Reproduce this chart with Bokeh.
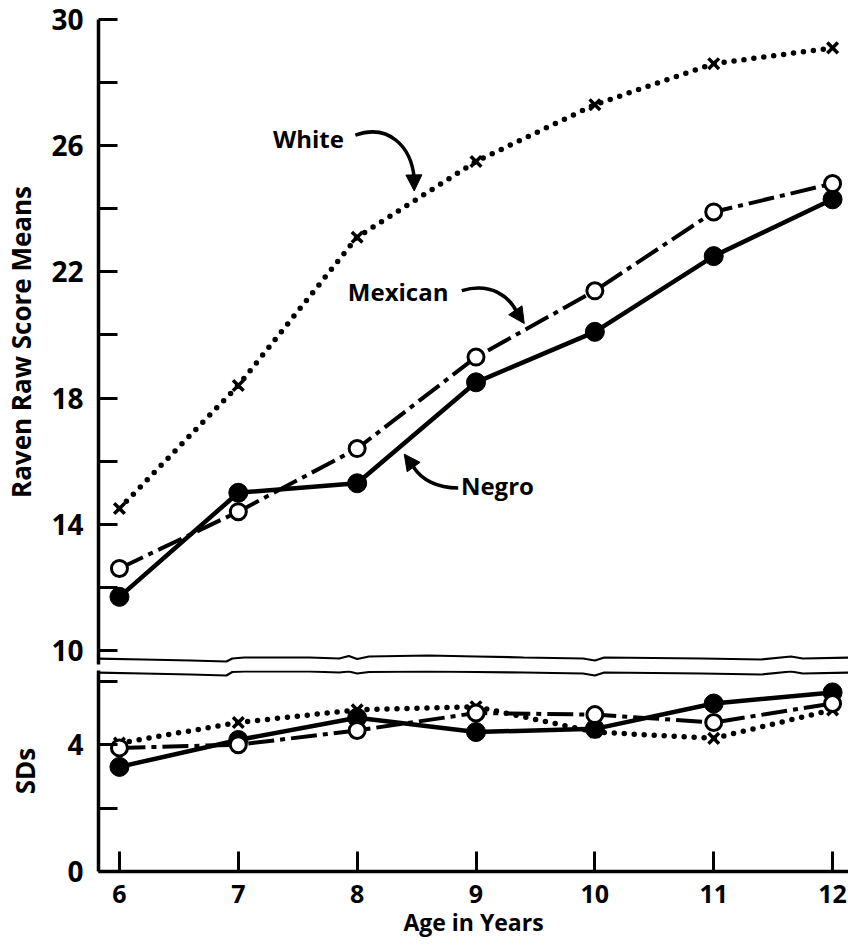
from bokeh.plotting import figure
from bokeh.layouts import column
from bokeh.models import Range1d, FixedTicker, Arrow, NormalHead, Label
from bokeh.embed import file_html
from bokeh.resources import INLINE

# ---------------- data ----------------
ages = [6, 7, 8, 9, 10, 11, 12]
white_mean = [14.5, 18.4, 23.1, 25.5, 27.3, 28.6, 29.1]
mexican_mean = [12.6, 14.4, 16.4, 19.3, 21.4, 23.9, 24.8]
negro_mean = [11.7, 15.0, 15.3, 18.5, 20.1, 22.5, 24.3]
white_sd = [4.05, 4.7, 5.1, 5.2, 4.4, 4.2, 5.1]
mexican_sd = [3.9, 4.0, 4.45, 5.0, 4.95, 4.7, 5.3]
negro_sd = [3.3, 4.15, 4.85, 4.4, 4.5, 5.3, 5.65]

mean_ticks = [10, 12, 14, 16, 18, 20, 22, 24, 26, 28, 30]
mean_tick_labels = ["10", "", "14", "", "18", "", "22", "", "26", "", "30"]
sd_ticks = [0, 2, 4, 6]
sd_tick_labels = ["0", "", "4", ""]
age_ticks = [6, 7, 8, 9, 10, 11, 12]
age_tick_labels = ["6", "7", "8", "9", "10", "11", "12"]

FONT = "Open Sans"
W = 848
LEFT = 96
X_RANGE = Range1d(5.8238, 12.134)


def style_axes(p):
    for ax in p.yaxis:
        ax.axis_line_width = 3.5
        ax.axis_line_color = "black"
        ax.major_tick_in = 19
        ax.major_tick_out = 0
        ax.major_tick_line_width = 3
        ax.minor_tick_line_color = None
        ax.major_label_text_font = FONT
        ax.major_label_text_font_style = "bold"
        ax.major_label_text_font_size = "28px"
        ax.major_label_text_color = "black"
        ax.major_label_standoff = 15
        ax.axis_label_text_font = FONT
        ax.axis_label_text_font_style = "bold"
        ax.axis_label_text_font_size = "26px"
        ax.axis_label_text_color = "black"
    p.xgrid.visible = False
    p.ygrid.visible = False
    p.outline_line_color = None
    p.background_fill_color = "white"
    p.border_fill_color = "white"


def draw_series(p, w, m, n):
    p.line(ages, w, line_color="black", line_width=5.5, line_dash="0 10", line_cap="round")
    p.line(ages, n, line_color="black", line_width=4.5)
    p.line(ages, m, line_color="black", line_width=4, line_dash="26 6 5 6")
    p.scatter(ages, w, marker="x", size=15, line_color="black", line_width=3.5)
    p.scatter(ages, n, marker="circle", size=19, fill_color="black", line_color="black")
    p.scatter(ages, m, marker="circle", size=16, fill_color="white", line_color="black", line_width=3)


# ---------------- top panel (means) ----------------
top = figure(width=W, height=670, output_backend="svg", toolbar_location=None,
             x_range=X_RANGE, y_range=Range1d(9.556, 30.0),
             x_axis_location=None, min_border_left=LEFT, min_border_right=0,
             min_border_top=19, min_border_bottom=6)
top.yaxis.ticker = FixedTicker(ticks=mean_ticks)
top.yaxis.major_label_overrides = {t: s for t, s in zip(mean_ticks, mean_tick_labels)}
top.yaxis.axis_label = "Raven Raw Score Means"
style_axes(top)
top.yaxis.axis_label_standoff = 9
draw_series(top, white_mean, mexican_mean, negro_mean)

# break line (decoration) at the bottom of the upper panel
brk_x = [5.80, 6.2, 6.6, 6.9, 6.95, 7.05, 7.6, 7.85, 7.93, 8.0, 8.1, 8.6, 9.0,
         9.4, 9.9, 10.0, 10.08, 10.9, 11.4, 11.65, 11.75, 12.15]
brk_top_px = [658, 659, 660, 661, 658, 657, 657, 658, 655.5, 658.5, 656, 655, 656,
              657, 658, 660, 657, 658, 659, 656, 658, 657]
top.line(brk_x, [10 + (650 - v) / 31.55 for v in brk_top_px], line_color="black", line_width=2.2)

# annotations
ann_font = dict(text_font=FONT, text_font_style="bold", text_font_size="24px",
                text_align="center", text_baseline="middle", text_color="black")
top.add_layout(Label(x=7.59, y=26.24, text="White", **ann_font))
top.add_layout(Label(x=8.345, y=21.374, text="Mexican", **ann_font))
top.add_layout(Label(x=9.18, y=15.245, text="Negro", **ann_font))

top.bezier(x0=[7.985, 8.88, 8.85], y0=[26.335, 21.406, 15.150],
           cx0=[8.27, 9.14, 8.665], cy0=[26.714, 21.690, 15.150],
           cx1=[8.455, 9.29, 8.54], cy1=[25.956, 21.153, 15.434],
           x1=[8.48, 9.34, 8.48], y1=[24.976, 20.742, 15.782],
           line_color="black", line_width=3.5)
for xs, ys, xe, ye in [(8.478, 25.0, 8.48, 24.566),
                       (9.337, 20.75, 9.406, 20.363),
                       (8.484, 15.77, 8.396, 16.224)]:
    top.add_layout(Arrow(end=NormalHead(size=16, fill_color="black", line_color="black"),
                         x_start=xs, y_start=ys, x_end=xe, y_end=ye,
                         line_width=3.5, line_color="black"))

# ---------------- bottom panel (SDs) ----------------
bot = figure(width=W, height=275, output_backend="svg", toolbar_location=None,
             x_range=X_RANGE, y_range=Range1d(0, 6.341),
             min_border_left=LEFT, min_border_right=0,
             min_border_top=0, min_border_bottom=74)
bot.yaxis.ticker = FixedTicker(ticks=sd_ticks)
bot.yaxis.major_label_overrides = {t: s for t, s in zip(sd_ticks, sd_tick_labels)}
bot.yaxis.axis_label = "SDs"
style_axes(bot)
bot.yaxis.axis_label_standoff = 21
bot.xaxis.ticker = FixedTicker(ticks=age_ticks)
bot.xaxis.major_label_overrides = {t: s for t, s in zip(age_ticks, age_tick_labels)}
bot.xaxis.axis_label = "Age in Years"
xa = bot.xaxis[0]
xa.axis_line_width = 3.5
xa.axis_line_color = "black"
xa.major_tick_in = 20
xa.major_tick_out = 0
xa.major_tick_line_width = 3
xa.minor_tick_line_color = None
xa.major_label_text_font = FONT
xa.major_label_text_font_style = "bold"
xa.major_label_text_font_size = "25px"
xa.major_label_text_color = "black"
xa.major_label_standoff = 13
xa.axis_label_text_font = FONT
xa.axis_label_text_font_style = "bold"
xa.axis_label_text_font_size = "23px"
xa.axis_label_text_color = "black"
xa.axis_label_standoff = 0
draw_series(bot, white_sd, mexican_sd, negro_sd)

brk_bot_px = [672, 673, 674, 675, 671.5, 671, 671, 672, 671, 673, 671.5, 671, 671.5,
              672, 673, 675, 672, 673, 674, 671, 673, 672]
bot.line(brk_x, [(871 - v) / 31.7 for v in brk_bot_px], line_color="black", line_width=2.2)

layout = column(top, bot, spacing=0)
open("out.html", "w").write(file_html(layout, INLINE))
